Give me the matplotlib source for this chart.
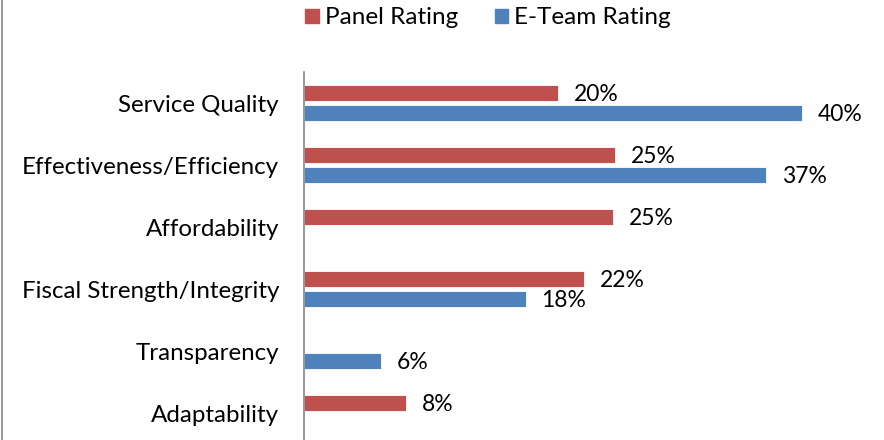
import matplotlib.pyplot as plt
import matplotlib.patches as patches
from matplotlib.lines import Line2D
import numpy as np

plt.rcParams['font.family'] = ['Lato', 'DejaVu Sans']

categories = ['Service Quality', 'Effectiveness/Efficiency', 'Affordability',
              'Fiscal Strength/Integrity', 'Transparency', 'Adaptability']
panel_rating = [20.4, 25.0, 24.8, 22.5, np.nan, 8.2]
eteam_rating = [40.0, 37.1, np.nan, 17.8, 6.2, np.nan]
series_names = ['Panel Rating', 'E-Team Rating']

red = '#C0504D'
blue = '#4F81BD'

W, H = 884, 440
fig = plt.figure(figsize=(W / 100, H / 100), dpi=100)
# axes: left edge at x=304px, top at y=72px, groups 62px tall
ax = fig.add_axes([304 / W, -4 / H, (W - 304) / W, (444 - 72) / H])

y = np.arange(len(categories))
h = 16 / 62
off = 10 / 62
ax.barh(y - off, panel_rating, height=h, color=red, edgecolor='white', linewidth=0.6)
ax.barh(y + off, eteam_rating, height=h, color=blue, edgecolor='white', linewidth=0.6)

for vals, dy in [(panel_rating, -off), (eteam_rating, off)]:
    for i, v in enumerate(vals):
        if np.isnan(v):
            continue
        ax.annotate('%d%%' % round(v), (v, i + dy), xytext=(11.5, -1),
                    textcoords='offset points', ha='left', va='center',
                    fontsize=16.5, color='black')

ax.set_ylim(len(categories) - 0.5, -0.5)
ax.set_xlim(0, (W - 304) / 12.45)
ax.set_yticks(y)
ax.set_yticklabels(categories, fontsize=17.4)
ax.tick_params(axis='y', length=0, pad=18)
ax.set_xticks([])
for s in ['top', 'right', 'bottom']:
    ax.spines[s].set_visible(False)
ax.spines['left'].set_color('#868686')
ax.spines['left'].set_linewidth(1.2)

handles = [patches.Patch(color=red), patches.Patch(color=blue)]
fig.legend(handles, series_names, loc='center', bbox_to_anchor=(488 / W, 1 - 18 / H),
           ncol=2, frameon=False, fontsize=17.5, handlelength=0.55, handleheight=0.55,
           handletextpad=0.25, columnspacing=1.5)

fig.add_artist(Line2D([1.5 / W, 1.5 / W], [0, 1], color='#868686', linewidth=1.2))

plt.savefig('out.png', dpi=100)
